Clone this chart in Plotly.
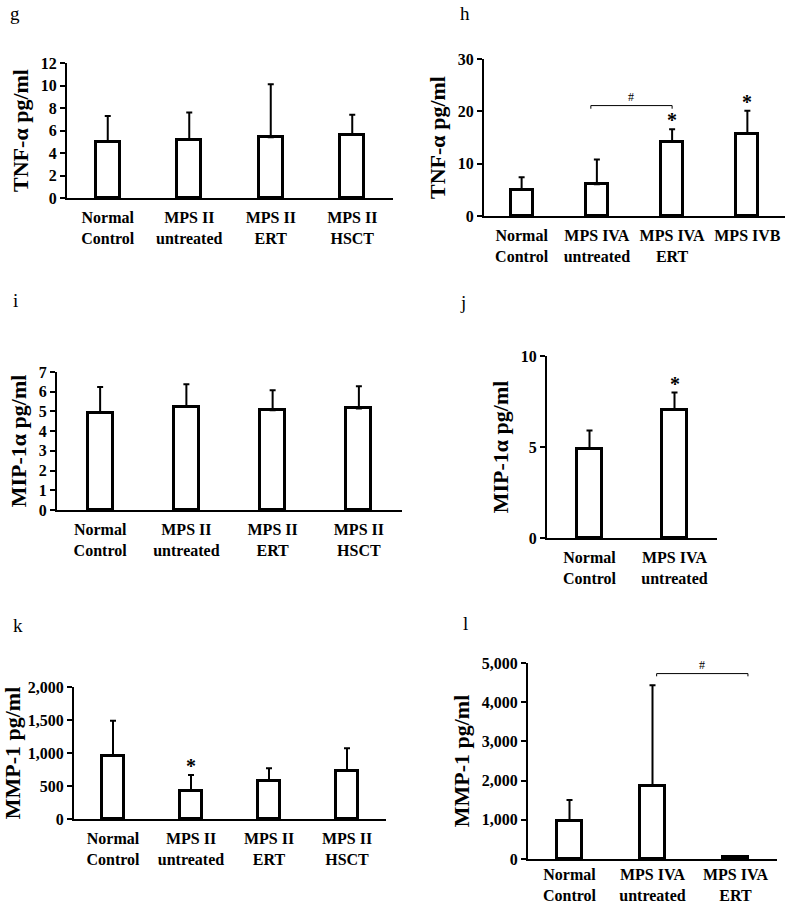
import plotly.graph_objects as go

W, H = 790, 905

# ---------------- data ----------------
g_categories = ["Normal<br>Control", "MPS II<br>untreated", "MPS II<br>ERT", "MPS II<br>HSCT"]
g_means = [5.0, 5.15, 5.4, 5.6]
g_sd = [2.3, 2.45, 4.7, 1.8]
g_star = [False, False, False, False]

h_categories = ["Normal<br>Control", "MPS IVA<br>untreated", "MPS IVA<br>ERT", "MPS IVB"]
h_means = [5.0, 6.05, 14.2, 15.7]
h_sd = [2.4, 4.75, 2.4, 4.4]
h_star = [False, False, True, True]

i_categories = ["Normal<br>Control", "MPS II<br>untreated", "MPS II<br>ERT", "MPS II<br>HSCT"]
i_means = [4.92, 5.23, 5.06, 5.15]
i_sd = [1.32, 1.15, 1.01, 1.13]
i_star = [False, False, False, False]

j_categories = ["Normal<br>Control", "MPS IVA<br>untreated"]
j_means = [4.9, 7.04]
j_sd = [1.0, 0.95]
j_star = [False, True]

k_categories = ["Normal<br>Control", "MPS II<br>untreated", "MPS II<br>ERT", "MPS II<br>HSCT"]
k_means = [961, 425, 582, 729]
k_sd = [527, 243, 188, 344]
k_star = [False, True, False, False]

l_categories = ["Normal<br>Control", "MPS IVA<br>untreated", "MPS IVA<br>ERT"]
l_means = [979, 1873, 50]
l_sd = [529, 2557, 0]
l_star = [False, False, False]

# bracket: (from category, to category, level, label)
h_bracket = (0.92, 2.0, 21.1, "#")
l_bracket = (1.05, 2.15, 4730, "#")

y_titles = {"g": "TNF-α pg/ml", "h": "TNF-α pg/ml", "i": "MIP-1α pg/ml",
            "j": "MIP-1α pg/ml", "k": "MMP-1 pg/ml", "l": "MMP-1 pg/ml"}

# ---------------- layout (pixels) ----------------
panels = [
    # key, cats, means, sd, stars, x0, x1, y zero, y top, ymax, dtick, fmt, label pos, x-label standoff
    ("g", g_categories, g_means, g_sd, g_star, 67, 393, 198, 63, 12, 2, "", (15, 13), 4),
    ("h", h_categories, h_means, h_sd, h_star, 484, 785, 216, 59, 30, 10, "", (465, 13), 4),
    ("i", i_categories, i_means, i_sd, i_star, 57, 402, 510, 372, 7, 1, "", (15, 300), 4),
    ("j", j_categories, j_means, j_sd, j_star, 547, 717, 538, 356, 10, 5, "", (463, 302), 4),
    ("k", k_categories, k_means, k_sd, k_star, 74, 386, 819, 687, 2000, 500, ",d", (18, 625), 4),
    ("l", l_categories, l_means, l_sd, l_star, 528, 777, 859, 663, 5000, 1000, ",d", (465, 623), 0),
]

FONT = "Liberation Serif"
fig = go.Figure()
annotations = []
shapes = []

for idx, (key, cats, means, sd, stars, x0, x1, y0, y1, ymax, dtick, fmt, lab, lso) in enumerate(panels):
    n = len(cats)
    suf = "" if idx == 0 else str(idx + 1)
    xa, ya = "x" + suf, "y" + suf
    pos = list(range(n))
    fig.add_trace(go.Bar(
        x=pos, y=means, width=0.29,
        marker=dict(color="white", line=dict(color="black", width=3)),
        error_y=dict(type="data", symmetric=False, array=sd, arrayminus=[0] * n,
                     color="black", thickness=2, width=3),
        xaxis=xa, yaxis=ya, showlegend=False,
    ))
    fig.layout["xaxis" + suf] = dict(
        domain=[x0 / W, x1 / W], range=[-0.5, n - 0.5], anchor=ya,
        tickvals=pos, ticktext=cats, showline=True, linecolor="black", linewidth=2,
        ticks="", showgrid=False, zeroline=False, fixedrange=True, automargin=False,
        ticklabeloverflow="allow", ticklabelstandoff=lso,
        tickfont=dict(family=FONT, size=16, color="black", weight="bold"),
    )
    fig.layout["yaxis" + suf] = dict(
        domain=[1 - y0 / H, 1 - y1 / H], range=[0, ymax], anchor=xa,
        dtick=dtick, tickformat=fmt, showline=True, linecolor="black", linewidth=2,
        ticks="outside", ticklen=5, tickwidth=2, tickcolor="black",
        showgrid=False, zeroline=False, fixedrange=True, automargin=False,
        tickfont=dict(family=FONT, size=16, color="black", weight="bold"),
        title=dict(text=y_titles[key], standoff=6,
                   font=dict(family=FONT, size=22, color="black", weight="bold")),
    )
    annotations.append(dict(text=key, x=lab[0] / W, y=1 - lab[1] / H, xref="paper", yref="paper",
                            showarrow=False, xanchor="center", yanchor="middle",
                            font=dict(family=FONT, size=19, color="black")))
    for i in range(n):
        if stars[i]:
            annotations.append(dict(text="*", x=i, y=means[i] + sd[i], xref=xa, yref=ya,
                                    showarrow=False, yanchor="middle", yshift=9,
                                    font=dict(family=FONT, size=20, color="black", weight="bold")))

for key, br, drop in (("h", h_bracket, 0.6), ("l", l_bracket, 70)):
    idx = [p[0] for p in panels].index(key)
    suf = "" if idx == 0 else str(idx + 1)
    xa, ya = "x" + suf, "y" + suf
    a, b, lev, txt = br
    shapes.append(dict(type="path", xref=xa, yref=ya,
                       path=f"M {a},{lev - drop} L {a},{lev} L {b},{lev} L {b},{lev - drop}",
                       line=dict(color="black", width=1)))
    annotations.append(dict(text=txt, x=(a + b) / 2, y=lev, xref=xa, yref=ya,
                            showarrow=False, yanchor="bottom", yshift=0,
                            font=dict(family=FONT, size=12, color="black")))

fig.update_layout(
    width=W, height=H, margin=dict(l=0, r=0, t=0, b=0, autoexpand=False),
    paper_bgcolor="white", plot_bgcolor="white",
    annotations=annotations, shapes=shapes, bargap=0,
)

fig.write_html("out.html", config={"displayModeBar": False},
               post_script="document.body.style.margin='0';document.body.style.overflow='hidden';")
